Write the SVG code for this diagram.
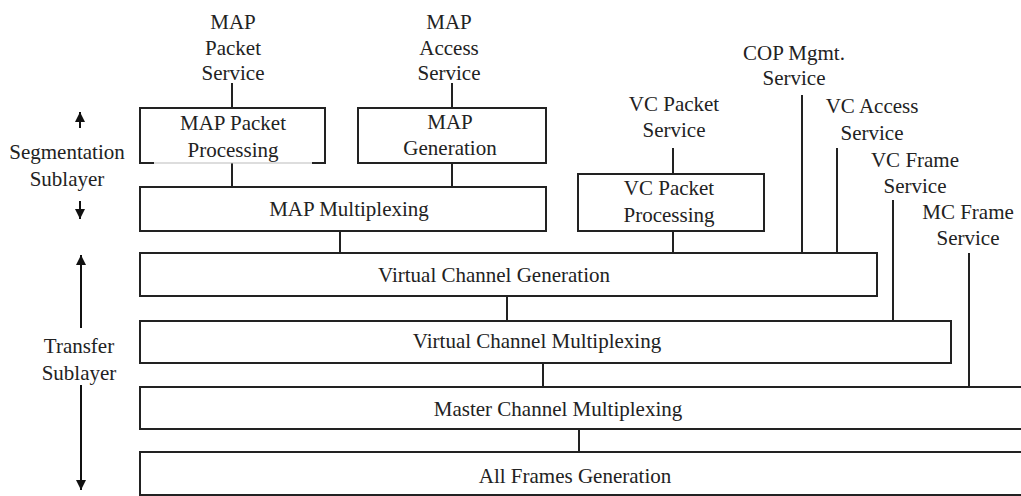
<svg xmlns="http://www.w3.org/2000/svg" width="1021" height="496" viewBox="0 0 1021 496">
  <defs>
    <marker id="ah" viewBox="0 0 10 10" refX="10" refY="5" markerWidth="10" markerHeight="10" markerUnits="userSpaceOnUse" orient="auto">
      <path d="M0,0 L10,5 L0,10 z" fill="#111"/>
    </marker>
  </defs>
  <style>
    .box { fill: #fff; stroke: #222; stroke-width: 2; }
    .t { font-family: "Liberation Serif", "Times New Roman", serif; font-size: 21px; fill: #222; text-anchor: middle; }
    .ln { stroke: #222; stroke-width: 2; fill: none; }
    .ar { stroke: #111; stroke-width: 2; fill: none; marker-end: url(#ah); }
  </style>
  <rect width="1021" height="496" fill="#fff"/>

  <g id="connectors">
    <line class="ln" x1="232" y1="83" x2="232" y2="108"/>
    <line class="ln" x1="232" y1="163" x2="232" y2="187"/>
    <line class="ln" x1="452" y1="83" x2="452" y2="108"/>
    <line class="ln" x1="452" y1="163" x2="452" y2="187"/>
    <line class="ln" x1="340" y1="231" x2="340" y2="253"/>
    <line class="ln" x1="673" y1="148" x2="673" y2="174"/>
    <line class="ln" x1="673" y1="231" x2="673" y2="253"/>
    <line class="ln" x1="802" y1="95" x2="802" y2="253"/>
    <line class="ln" x1="837" y1="148" x2="837" y2="253"/>
    <line class="ln" x1="507" y1="296" x2="507" y2="321"/>
    <line class="ln" x1="893" y1="200" x2="893" y2="321"/>
    <line class="ln" x1="543" y1="363" x2="543" y2="387"/>
    <line class="ln" x1="969" y1="253" x2="969" y2="387"/>
    <line class="ln" x1="579" y1="429" x2="579" y2="452"/>
  </g>

  <g id="sublayer-arrows">
    <line class="ar" x1="80" y1="128" x2="80" y2="112"/>
    <line class="ar" x1="80" y1="201" x2="80" y2="219"/>
    <line class="ar" x1="81" y1="328" x2="81" y2="255"/>
    <line class="ar" x1="81" y1="385" x2="81" y2="490"/>
  </g>

  <g id="segmentation-label">
    <text class="t" x="67" y="159">Segmentation</text>
    <text class="t" x="67" y="186">Sublayer</text>
  </g>
  <g id="transfer-label">
    <text class="t" x="79" y="353">Transfer</text>
    <text class="t" x="79" y="380">Sublayer</text>
  </g>

  <g id="map-packet-service">
    <text class="t" x="233" y="29">MAP</text>
    <text class="t" x="233" y="55">Packet</text>
    <text class="t" x="233" y="80">Service</text>
  </g>
  <g id="map-access-service">
    <text class="t" x="449" y="29">MAP</text>
    <text class="t" x="449" y="55">Access</text>
    <text class="t" x="449" y="80">Service</text>
  </g>
  <g id="vc-packet-service">
    <text class="t" x="674" y="111">VC Packet</text>
    <text class="t" x="674" y="137">Service</text>
  </g>
  <g id="cop-mgmt-service">
    <text class="t" x="794" y="60">COP Mgmt.</text>
    <text class="t" x="794" y="85">Service</text>
  </g>
  <g id="vc-access-service">
    <text class="t" x="872" y="113">VC Access</text>
    <text class="t" x="872" y="140">Service</text>
  </g>
  <g id="vc-frame-service">
    <text class="t" x="915" y="167">VC Frame</text>
    <text class="t" x="915" y="193">Service</text>
  </g>
  <g id="mc-frame-service">
    <text class="t" x="968" y="219">MC Frame</text>
    <text class="t" x="968" y="245">Service</text>
  </g>

  <g id="map-packet-processing">
    <rect x="140" y="108" width="185" height="55" fill="#fff"/>
    <path class="ln" d="M154,163 L140,163 L140,108 L325,108 L325,163 L312,163"/>
    <line x1="154" y1="163" x2="312" y2="163" stroke="#bbb" stroke-width="1"/>
    <text class="t" x="233" y="130">MAP Packet</text>
    <text class="t" x="233" y="157">Processing</text>
  </g>
  <g id="map-generation">
    <rect class="box" x="358" y="108" width="188" height="55"/>
    <text class="t" x="450" y="129">MAP</text>
    <text class="t" x="450" y="155">Generation</text>
  </g>
  <g id="map-multiplexing">
    <rect class="box" x="140" y="187" width="406" height="44"/>
    <text class="t" x="349" y="216">MAP Multiplexing</text>
  </g>
  <g id="vc-packet-processing">
    <rect class="box" x="578" y="174" width="186" height="57"/>
    <text class="t" x="669" y="195">VC Packet</text>
    <text class="t" x="669" y="222">Processing</text>
  </g>
  <g id="virtual-channel-generation">
    <rect class="box" x="140" y="253" width="737" height="43"/>
    <text class="t" x="494" y="282">Virtual Channel Generation</text>
  </g>
  <g id="virtual-channel-multiplexing">
    <rect class="box" x="140" y="321" width="811" height="42"/>
    <text class="t" x="537" y="348">Virtual Channel Multiplexing</text>
  </g>
  <g id="master-channel-multiplexing">
    <rect class="box" x="140" y="387" width="900" height="42"/>
    <text class="t" x="558" y="416">Master Channel Multiplexing</text>
  </g>
  <g id="all-frames-generation">
    <rect class="box" x="140" y="452" width="900" height="43"/>
    <text class="t" x="575" y="483">All Frames Generation</text>
  </g>
</svg>
